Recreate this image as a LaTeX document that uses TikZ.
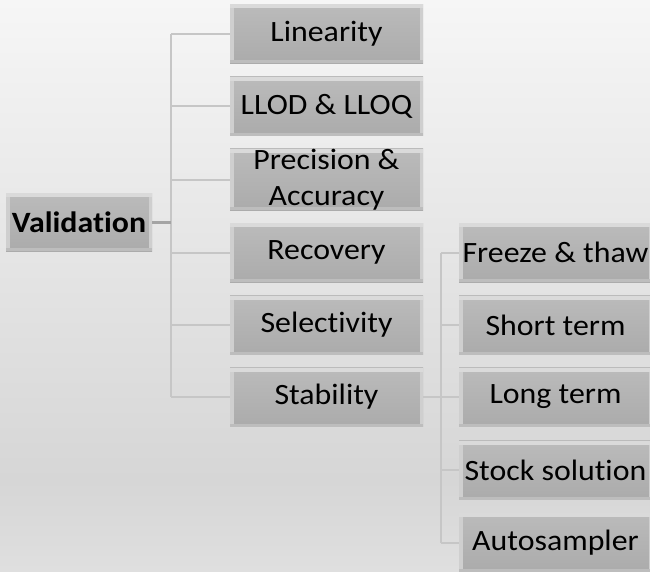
\documentclass[tikz,border=0pt]{standalone}
\usepackage{fontspec}
\setmainfont{Carlito}[FakeStretch=1.08,Ligatures=CommonOff]
\definecolor{bgtop}{HTML}{F6F6F6}
\definecolor{bgmid}{HTML}{D6D6D6}
\definecolor{bgbot}{HTML}{DFDFDF}
\definecolor{boxtop}{HTML}{BBBBBB}
\definecolor{boxbot}{HTML}{ABABAB}
\definecolor{bevlight}{HTML}{DADADA}
\definecolor{bevside}{HTML}{CFCFCF}
\definecolor{bevdark}{HTML}{BDBDBD}
\definecolor{linecol}{HTML}{C6C6C6}
\definecolor{rootline}{HTML}{A4A4A4}
\tikzset{
  x=1pt, y=1pt,
  box/.style={minimum width=193pt, minimum height=59pt, inner sep=0pt,
    top color=boxtop, bottom color=boxbot, align=center,
    font=\fontsize{29.5}{36}\selectfont, text=black,
    path picture={
      \fill[bevlight] (path picture bounding box.north west) rectangle ([yshift=-4pt]path picture bounding box.north east);
      \fill[bevside] ([yshift=-4pt]path picture bounding box.north west) rectangle ([xshift=4pt,yshift=3pt]path picture bounding box.south west);
      \fill[bevside] ([yshift=-4pt]path picture bounding box.north east) rectangle ([xshift=-3pt,yshift=3pt]path picture bounding box.south east);
      \fill[bevdark] (path picture bounding box.south west) rectangle ([yshift=3pt]path picture bounding box.south east);
    }},
  rootbox/.style={box, minimum width=146pt, minimum height=58pt, font=\fontsize{29.5}{36}\selectfont\bfseries},
  conn/.style={draw=linecol, line width=2pt},
  rootconn/.style={draw=rootline, line width=3pt}
}
\begin{document}
\begin{tikzpicture}
\useasboundingbox (0,0) rectangle (650,-571);
\clip (0,0) rectangle (650,-571);
\shade[top color=bgtop, bottom color=bgmid] (0,0) rectangle (650,-480);
\shade[top color=bgmid, bottom color=bgbot] (0,-480) rectangle (650,-571);

% root
\node[rootbox] (val) at (79,-222) {Validation};
% level 1
\node[box] (lin) at (326.5,-33.5) {Linearity};
\node[box] (llod) at (326.5,-106) {LLOD \& LLOQ};
\node[box] (prec) at (326.5,-179.5) {Precision \&\\Accuracy};
\node[box] (rec) at (326.5,-252.5) {Recovery};
\node[box] (sel) at (326.5,-325) {Selectivity};
\node[box] (stab) at (326.5,-397) {Stability};
% level 2
\node[box] (frz) at (555.5,-252.5) {Freeze \& thaw};
\node[box] (short) at (555.5,-325) {Short term};
\node[box] (long) at (555.5,-397) {Long term};
\node[box] (stock) at (555.5,-470) {Stock solution};
\node[box] (auto) at (555.5,-542.5) {Autosampler};

\coordinate (j1) at (171,-222);
\coordinate (j2) at (441,-397);

% connectors level 1
\draw[conn] (lin.west -| j1) -- (stab.west -| j1);
\foreach \n in {lin,llod,prec,rec,sel,stab}
  \draw[conn] (\n.west -| j1) -- (\n.west);
\draw[rootconn] (val.east) -- (j1);
% connectors level 2
\draw[conn] (frz.west -| j2) -- (auto.west -| j2);
\foreach \n in {frz,short,long,stock,auto}
  \draw[conn] (\n.west -| j2) -- (\n.west);
\draw[conn] (stab.east) -- (j2);
\end{tikzpicture}
\end{document}
